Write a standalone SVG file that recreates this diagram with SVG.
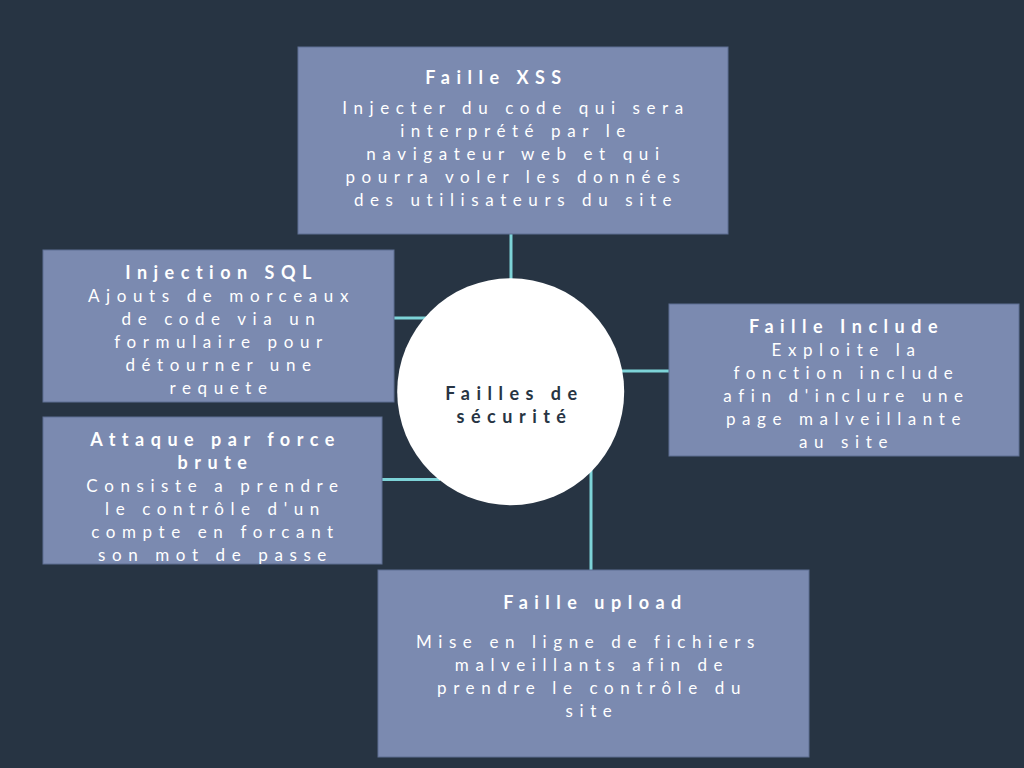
<svg xmlns="http://www.w3.org/2000/svg" width="1024" height="768" viewBox="0 0 1024 768">
<style>
.bg{fill:#273443}
.box{fill:#7b8ab0;stroke:#5f6f93;stroke-width:1}
.hub{fill:#ffffff}
.conn{stroke:#7dd3d8;stroke-width:3;fill:none}
.t{font-family:Lato,"Liberation Sans",sans-serif;font-weight:700;font-size:18px;letter-spacing:6.5px;fill:#ffffff;text-anchor:middle}
.b{font-family:Lato,"Liberation Sans",sans-serif;font-weight:400;font-size:17px;letter-spacing:6.6px;fill:#ffffff;text-anchor:middle}
.h{font-family:Lato,"Liberation Sans",sans-serif;font-weight:700;font-size:18px;letter-spacing:6.5px;fill:#273443;text-anchor:middle}
</style>
<rect class="bg" x="0" y="0" width="1024" height="768"/>
<g id="connectors">
<line class="conn" x1="511" y1="234" x2="511" y2="282"/>
<line class="conn" x1="394" y1="318" x2="430" y2="318"/>
<line class="conn" x1="382" y1="479.5" x2="440" y2="479.5"/>
<line class="conn" x1="618" y1="371" x2="669" y2="371"/>
<line class="conn" x1="591" y1="462" x2="591" y2="570"/>
</g>
<g id="hub">
<circle class="hub" cx="510.7" cy="391.7" r="113.5"/>
<text class="h" x="514.5" y="399.5">Failles de</text>
<text class="h" x="514.5" y="422.5">sécurité</text>
</g>
<g id="xss">
<rect class="box" x="298" y="47" width="430" height="187"/>
<text class="t" x="496.5" y="84">Faille XSS</text>
<text class="b" x="516" y="114">Injecter du code qui sera</text>
<text class="b" x="516" y="137">interprété par le</text>
<text class="b" x="516" y="160">navigateur web et qui</text>
<text class="b" x="516" y="183">pourra voler les données</text>
<text class="b" x="516" y="206">des utilisateurs du site</text>
</g>
<g id="sql">
<rect class="box" x="43" y="250" width="351" height="152"/>
<text class="t" x="221.5" y="279">Injection SQL</text>
<text class="b" x="221.5" y="302">Ajouts de morceaux</text>
<text class="b" x="221.5" y="325">de code via un</text>
<text class="b" x="221.5" y="348">formulaire pour</text>
<text class="b" x="221.5" y="371">détourner une</text>
<text class="b" x="221.5" y="394">requete</text>
</g>
<g id="brute">
<rect class="box" x="43" y="417" width="339" height="147"/>
<text class="t" x="215.5" y="445.5">Attaque par force</text>
<text class="t" x="215.5" y="468.5">brute</text>
<text class="b" x="215.5" y="491.5">Consiste a prendre</text>
<text class="b" x="215.5" y="514.5">le contrôle d'un</text>
<text class="b" x="215.5" y="537.5">compte en forcant</text>
<text class="b" x="215.5" y="560.5">son mot de passe</text>
</g>
<g id="include">
<rect class="box" x="669" y="304" width="350" height="152"/>
<text class="t" x="846.5" y="333">Faille Include</text>
<text class="b" x="846.5" y="356">Exploite la</text>
<text class="b" x="846.5" y="379">fonction include</text>
<text class="b" x="846.5" y="402">afin d'inclure une</text>
<text class="b" x="846.5" y="425">page malveillante</text>
<text class="b" x="846.5" y="448">au site</text>
</g>
<g id="upload">
<rect class="box" x="378" y="570" width="431" height="187"/>
<text class="t" x="595.5" y="609">Faille upload</text>
<text class="b" x="588.5" y="647.5">Mise en ligne de fichiers</text>
<text class="b" x="592" y="670.5">malveillants afin de</text>
<text class="b" x="592" y="693.5">prendre le contrôle du</text>
<text class="b" x="592" y="716.5">site</text>
</g>
</svg>
